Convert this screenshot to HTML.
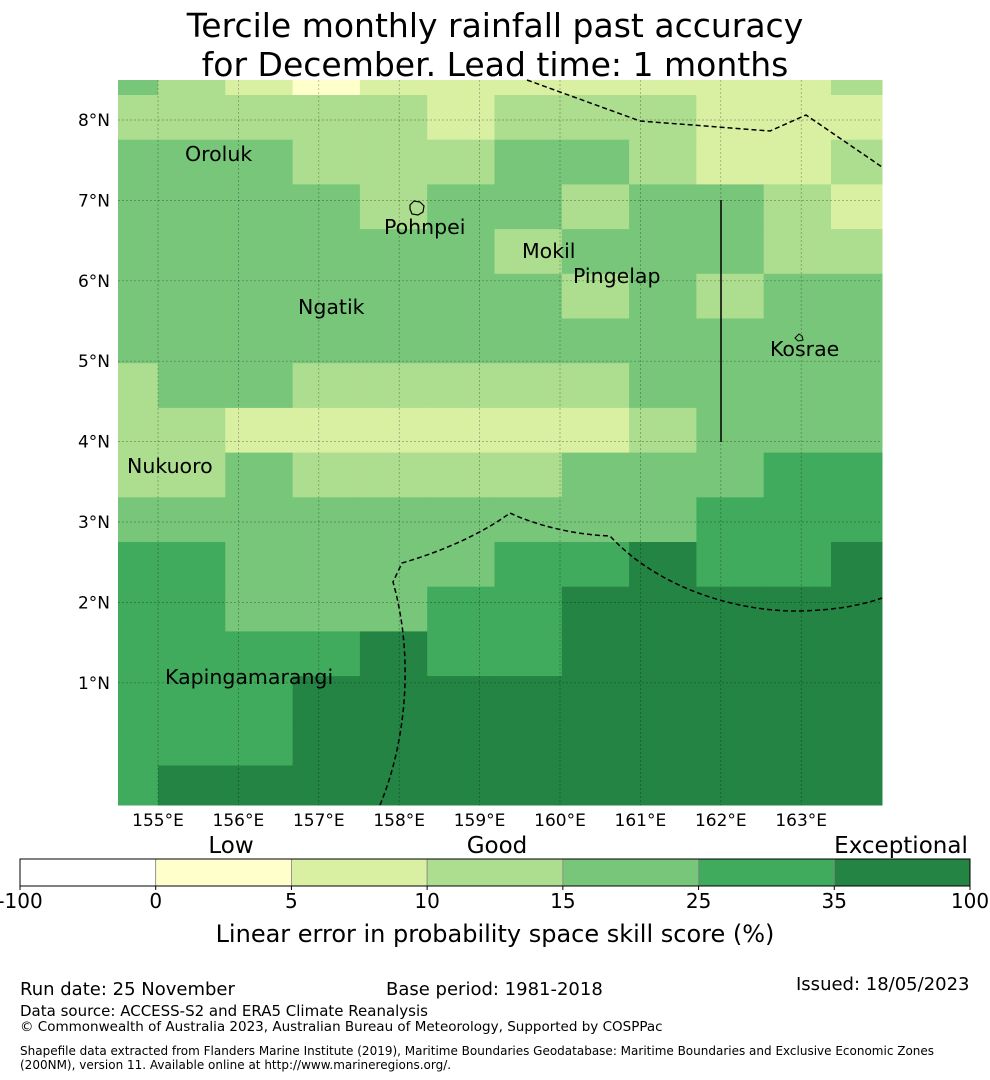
<!DOCTYPE html>
<html><head><meta charset="utf-8"><style>
html,body{margin:0;padding:0;background:#fff;}
svg{display:block;font-family:"Liberation Sans","DejaVu Sans",sans-serif;}
</style></head><body>
<svg id="chart" width="990" height="1080" viewBox="0 0 990 1080" xmlns="http://www.w3.org/2000/svg">
<text x="495" y="37" font-size="33" text-anchor="middle" font-family="DejaVu Sans, sans-serif">Tercile monthly rainfall past accuracy</text>
<text x="495" y="76" font-size="33" text-anchor="middle" font-family="DejaVu Sans, sans-serif">for December. Lead time: 1 months</text>
<g id="cells"></g>
<g id="grid"></g>
<g id="overlay">
<path d="M527,80 L640,121 L770,131 L806,115 L882,167" fill="none" stroke="#000" stroke-width="1.5" stroke-dasharray="5,3"/>
<path d="M380,805 C405,745 415,660 393,582 L402,563 C440,552 480,535 510,513 C535,525 575,535 610,536 C660,590 740,612 800,611 C840,610 865,604 882,598" fill="none" stroke="#000" stroke-width="1.5" stroke-dasharray="5,3"/>
<line x1="721" y1="200" x2="721" y2="442" stroke="#000" stroke-width="1.5"/>
<path d="M410,205 l4,-4 l6,1 l4,4 l-1,6 l-5,3 l-6,-1 l-2,-5z" fill="none" stroke="#000" stroke-width="1.2"/>
<path d="M795,338 l4,-4 l3,2 l1,4 l-5,1z" fill="none" stroke="#000" stroke-width="1"/>
</g>
<g font-size="20.5" fill="#000" font-family="DejaVu Sans, sans-serif">
<text x="185" y="161">Oroluk</text>
<text x="384" y="234">Pohnpei</text>
<text x="522" y="258">Mokil</text>
<text x="573" y="283">Pingelap</text>
<text x="298" y="314">Ngatik</text>
<text x="770" y="356">Kosrae</text>
<text x="127" y="473">Nukuoro</text>
<text x="165" y="684">Kapingamarangi</text>
</g>
<g id="axes" font-size="17" font-family="DejaVu Sans, sans-serif"></g>
<g id="cbar" font-family="DejaVu Sans, sans-serif"></g>
<text x="231" y="853" font-size="23" text-anchor="middle" font-family="DejaVu Sans, sans-serif">Low</text>
<text x="497" y="853" font-size="23" text-anchor="middle" font-family="DejaVu Sans, sans-serif">Good</text>
<text x="901" y="853" font-size="23" text-anchor="middle" font-family="DejaVu Sans, sans-serif">Exceptional</text>
<text x="495" y="942" font-size="24" text-anchor="middle" font-family="DejaVu Sans, sans-serif">Linear error in probability space skill score (%)</text>
<g font-family="DejaVu Sans, sans-serif">
<text x="20" y="995" font-size="18">Run date: 25 November</text>
<text x="386" y="995" font-size="18">Base period: 1981-2018</text>
<text x="796" y="990" font-size="18">Issued: 18/05/2023</text>
<text x="20" y="1016" font-size="15">Data source: ACCESS-S2 and ERA5 Climate Reanalysis</text>
<text x="20" y="1031" font-size="13.5">© Commonwealth of Australia 2023, Australian Bureau of Meteorology, Supported by COSPPac</text>
<text x="20" y="1055" font-size="12">Shapefile data extracted from Flanders Marine Institute (2019), Maritime Boundaries Geodatabase: Maritime Boundaries and Exclusive Economic Zones</text>
<text x="20" y="1069" font-size="12">(200NM), version 11. Available online at http://www.marineregions.org/.</text>
</g>
</svg>
<script>
// category index per cell (0 white .. 6 darkest), rows top->bottom, columns west->east
const row0=[4,3,2,1,2,2,2,2,2,2,2,3];
const row1=[3,3,3,3,3,2,3,3,3,2,2,2];
const row2=[4,4,4,3,3,3,4,4,3,2,2,3];
const row3=[4,4,4,4,3,4,4,3,4,4,3,2];
const row4=[4,4,4,4,4,4,3,4,4,4,3,3];
const row5=[4,4,4,4,4,4,4,3,4,3,4,4];
const row6=[4,4,4,4,4,4,4,4,4,4,4,4];
const row7=[3,4,4,3,3,3,3,3,4,4,4,4];
const row8=[3,3,2,2,2,2,2,2,3,4,4,4];
const row9=[3,3,4,3,3,3,3,4,4,4,5,5];
const row10=[4,4,4,4,4,4,4,4,4,5,5,5];
const row11=[5,5,4,4,4,4,5,5,6,5,5,6];
const row12=[5,5,4,4,4,5,5,6,6,6,6,6];
const row13=[5,5,5,5,6,5,5,6,6,6,6,6];
const row14=[5,5,5,6,6,6,6,6,6,6,6,6];
const row15=[5,5,5,6,6,6,6,6,6,6,6,6];
const row16=[5,6,6,6,6,6,6,6,6,6,6,6];
const rows=[row0,row1,row2,row3,row4,row5,row6,row7,row8,row9,row10,row11,row12,row13,row14,row15,row16];
const lonTicks=[155,156,157,158,159,160,161,162,163];
const latTicks=[8,7,6,5,4,3,2,1];
const cbarBounds=["-100","0","5","10","15","25","35","100"];
const palette=["#ffffff","#ffffcc","#d9f0a3","#addd8e","#78c679","#41ab5d","#238443"];

const NS="http://www.w3.org/2000/svg";
const MX0=118,MX1=882,MY0=80,MY1=805;
const PXDEG=80.4;
function xLon(lon){return 158+(lon-155)*PXDEG;}
function yLat(lat){return 120+(8-lat)*PXDEG;}
const CW=67.3, RH=44.7;
function colEdge(i){return Math.min(MX1,Math.max(MX0,158+(i-1)*CW));}
function rowEdge(j){return Math.min(MY1,Math.max(MY0,95+(j-1)*RH));}
function mk(tag,attrs,parent){const e=document.createElementNS(NS,tag);for(const k in attrs)e.setAttribute(k,attrs[k]);parent.appendChild(e);return e;}

const cells=document.getElementById('cells');
rows.forEach((r,j)=>{r.forEach((v,i)=>{
  const x0=colEdge(i),x1=colEdge(i+1),y0=rowEdge(j),y1=rowEdge(j+1);
  const c=mk('rect',{x:x0,y:y0,width:x1-x0+0.5,height:y1-y0+0.5,fill:palette[v]},cells);
  
  
});});

const grid=document.getElementById('grid');
const axes=document.getElementById('axes');
lonTicks.forEach(l=>{
  const x=xLon(l);
  const g=mk('line',{x1:x,y1:MY0,x2:x,y2:MY1,stroke:'rgba(0,0,0,0.35)','stroke-width':0.7,'stroke-dasharray':'2,2'},grid);
  
  
  const t=mk('text',{x:x,y:826,'text-anchor':'middle'},axes);t.textContent=l+'°E';
  
  
});
latTicks.forEach(l=>{
  const y=yLat(l);
  const g=mk('line',{x1:MX0,y1:y,x2:MX1,y2:y,stroke:'rgba(0,0,0,0.35)','stroke-width':0.7,'stroke-dasharray':'2,2'},grid);
  
  
  const t=mk('text',{x:110,y:y+6,'text-anchor':'end'},axes);t.textContent=l+'°N';
  
  
});

const cbar=document.getElementById('cbar');
const CB0=20,CB1=970,CBY=859,CBH=27;
const segW=(CB1-CB0)/(cbarBounds.length-1);
for(let k=0;k<cbarBounds.length-1;k++){
  const s=mk('rect',{x:CB0+k*segW,y:CBY,width:segW,height:CBH,fill:palette[k],stroke:'#888','stroke-width':0.8},cbar);
  
  
}
const fr=mk('rect',{x:CB0,y:CBY,width:CB1-CB0,height:CBH,fill:'none',stroke:'#000','stroke-width':1},cbar);


cbarBounds.forEach((b,k)=>{
  const x=CB0+k*segW;
  const tk=mk('line',{x1:x,y1:CBY+CBH,x2:x,y2:CBY+CBH+4,stroke:'#000'},cbar);
  
  
  const t=mk('text',{x:x,y:908,'text-anchor':'middle','font-size':20},cbar);t.textContent=b;
  
  
});
</script>
</body></html>
